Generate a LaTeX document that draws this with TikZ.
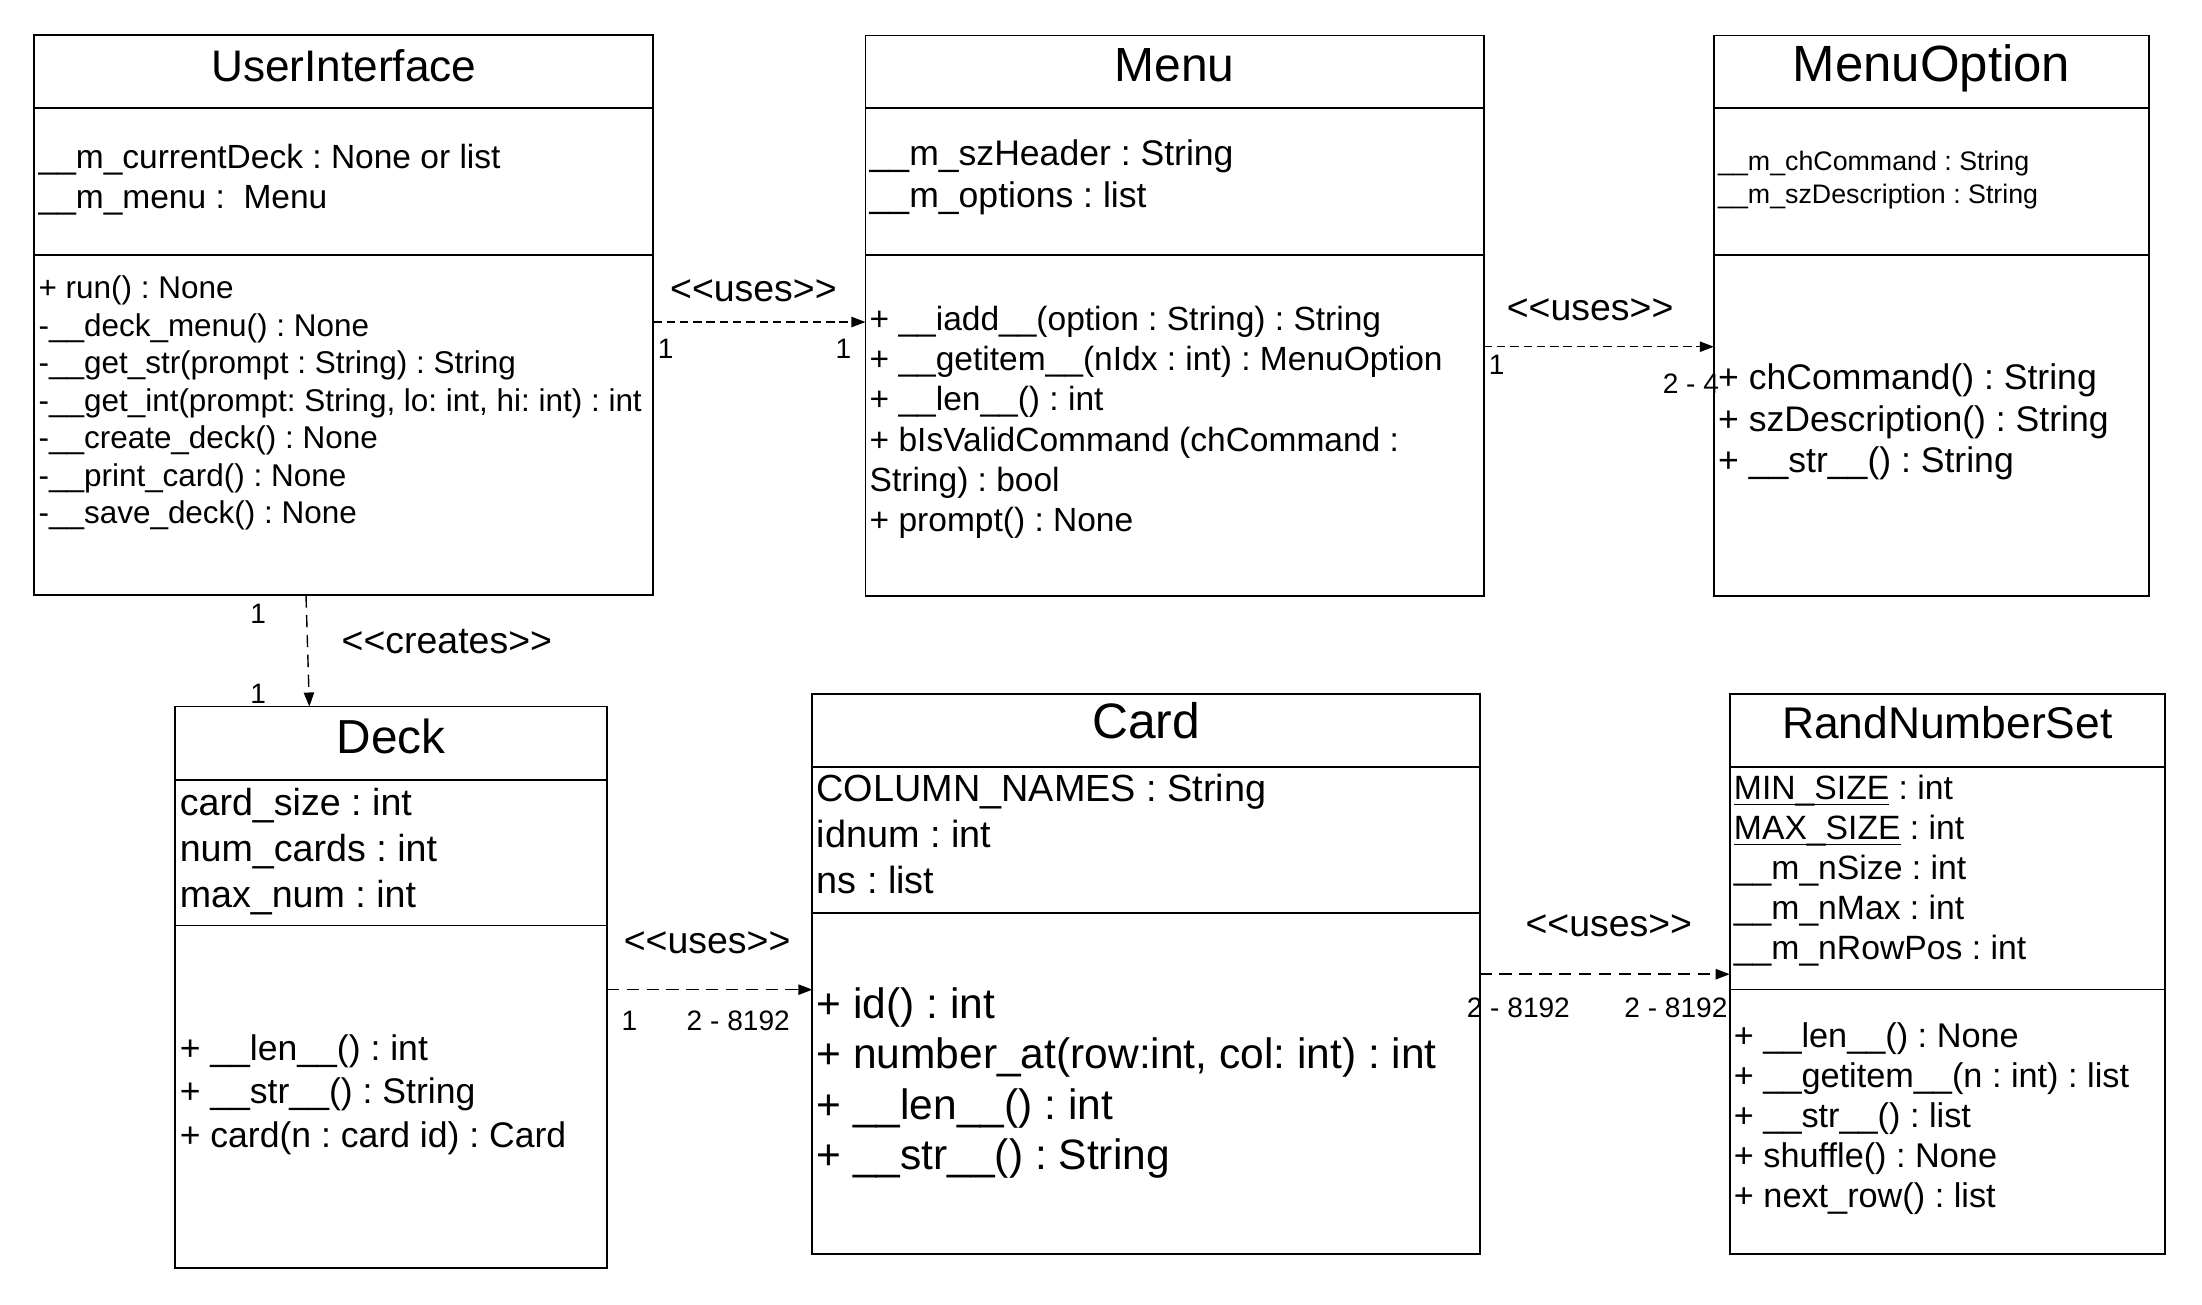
\documentclass[tikz,border=0pt]{standalone}
\usepackage{fontspec}
\setmainfont{Liberation Sans}[Ligatures=TeXOff]
\usetikzlibrary{arrows.meta,fit}
\newcommand{\myfs}[1]{\fontsize{#1pt}{#1pt}\selectfont}
\newcommand{\myul}[1]{\setbox0\hbox{#1}\rlap{\rule[-3.1pt]{\wd0}{0.9pt}}\box0\relax}
\frenchspacing
\begin{document}
\begin{tikzpicture}[x=0.75pt,y=-0.75pt,
  box/.style={draw, line width=1pt, inner sep=0pt, outer sep=0pt},
  divider/.style={line width=1pt},
  txt/.style={inner sep=0pt, outer sep=0pt, anchor=base west},
  ttl/.style={inner sep=0pt, outer sep=0pt, anchor=base},
  lbl/.style={inner sep=0pt, outer sep=0pt, anchor=base, font=\myfs{20}},
  mult/.style={inner sep=0pt, outer sep=0pt, anchor=base west, font=\myfs{15}},
  dep/.style={line width=0.75pt, -{Triangle[length=7.5pt,width=5.5pt]}},
  shortdash/.style={dash pattern=on 4.5pt off 2.6pt},
  longdash/.style={dash pattern=on 6.6pt off 4pt}]

\path[fill=white,use as bounding box] (0,0) rectangle (1568,928.6);

% ---------- boxes ----------
\node[box, fit={(24.5,24.8) (465.2,423.8)}] (ui) {};
\node[box, fit={(616.3,25.3) (1056.5,424.3)}] (menu) {};
\node[box, fit={(1220.4,25.3) (1530.3,424.3)}] (mo) {};
\node[box, fit={(124.9,503.1) (432.1,903)}] (deck) {};
\node[box, fit={(578.5,494) (1053.6,893.2)}] (card) {};
\node[box, fit={(1231.7,494) (1541.5,893.2)}] (rns) {};

% ---------- dividers ----------
\draw[divider] (ui.west |- 0,76.6) -- (ui.east |- 0,76.6);
\draw[divider] (ui.west |- 0,181.6) -- (ui.east |- 0,181.6);
\draw[divider] (menu.west |- 0,76.9) -- (menu.east |- 0,76.9);
\draw[divider] (menu.west |- 0,181.6) -- (menu.east |- 0,181.6);
\draw[divider] (mo.west |- 0,76.9) -- (mo.east |- 0,76.9);
\draw[divider] (mo.west |- 0,181.6) -- (mo.east |- 0,181.6);
\draw[divider] (deck.west |- 0,555.4) -- (deck.east |- 0,555.4);
\draw[divider] (deck.west |- 0,659) -- (deck.east |- 0,659);
\draw[divider] (card.west |- 0,546.1) -- (card.east |- 0,546.1);
\draw[divider] (card.west |- 0,650) -- (card.east |- 0,650);
\draw[divider] (rns.west |- 0,546) -- (rns.east |- 0,546);
\draw[divider] (rns.west |- 0,704.6) -- (rns.east |- 0,704.6);

% ---------- titles ----------
\node[ttl, font=\myfs{23.6}] (uiT) at (ui.north |- 0,57.7) {UserInterface};
\node[ttl, font=\myfs{25.6}] (menuT) at (menu.north |- 0,57.7) {Menu};
\node[ttl, font=\myfs{27.2}] (moT) at (mo.north |- 0,57.7) {MenuOption};
\node[ttl, font=\myfs{25.5}] (deckT) at (deck.north |- 0,536.4) {Deck};
\node[ttl, font=\myfs{26.6}] (cardT) at (card.north |- 0,526.2) {Card};
\node[ttl, font=\myfs{23.7}] (rnsT) at (rns.north |- 0,526.2) {RandNumberSet};

% ---------- UserInterface ----------
\foreach \t [count=\i] in {{\_\_m\_currentDeck : None or list},{\_\_m\_menu :\ \ Menu}}
  \node[txt, font=\myfs{17.9}] (uia\i) at (27.5,{119.7+29*(\i-1)}) {\t};
\foreach \t [count=\i] in {{+ run() : None},{-\_\_deck\_menu() : None},{-\_\_get\_str(prompt : String) : String},{-\_\_get\_int(prompt: String, lo: int, hi: int) : int},{-\_\_create\_deck() : None},{-\_\_print\_card() : None},{-\_\_save\_deck() : None}}
  \node[txt, font=\myfs{16.8}] (uim\i) at (27.5,{212.6+26.75*(\i-1)}) {\t};

% ---------- Menu ----------
\foreach \t [count=\i] in {{\_\_m\_szHeader : String},{\_\_m\_options : list}}
  \node[txt, font=\myfs{19}] (mea\i) at (619.3,{118.2+29.6*(\i-1)}) {\t};
\foreach \t [count=\i] in {{+ \_\_iadd\_\_(option : String) : String},{+ \_\_getitem\_\_(nIdx : int) : MenuOption},{+ \_\_len\_\_() : int},{+ bIsValidCommand (chCommand :},{String) : bool},{+ prompt() : None}}
  \node[txt, font=\myfs{17.9}] (mem\i) at (619.3,{235.1+28.7*(\i-1)}) {\t};

% ---------- MenuOption ----------
\foreach \t [count=\i] in {{\_\_m\_chCommand : String},{\_\_m\_szDescription : String}}
  \node[txt, font=\myfs{14.3}] (moa\i) at (1223.5,{121.6+23.4*(\i-1)}) {\t};
\foreach \t [count=\i] in {{+ chCommand() : String},{+ szDescription() : String},{+ \_\_str\_\_() : String}}
  \node[txt, font=\myfs{19}] (mom\i) at (1223.5,{277.4+29.6*(\i-1)}) {\t};

% ---------- Deck ----------
\foreach \t [count=\i] in {{card\_size : int},{num\_cards : int},{max\_num : int}}
  \node[txt, font=\myfs{20.1}] (dea\i) at (128,{580.7+32.6*(\i-1)}) {\t};
\foreach \t [count=\i] in {{+ \_\_len\_\_() : int},{+ \_\_str\_\_() : String},{+ card(n : card id) : Card}}
  \node[txt, font=\myfs{19}] (dem\i) at (128,{755+30.9*(\i-1)}) {\t};

% ---------- Card ----------
\foreach \t [count=\i] in {{COLUMN\_NAMES : String},{idnum : int},{ns : list}}
  \node[txt, font=\myfs{20.2}] (caa\i) at (581.5,{570.8+32.6*(\i-1)}) {\t};
\foreach \t [count=\i] in {{+ id() : int},{+ number\_at(row:int, col: int) : int},{+ \_\_len\_\_() : int},{+ \_\_str\_\_() : String}}
  \node[txt, font=\myfs{22.7}] (cam\i) at (581.5,{725.4+35.8*(\i-1)}) {\t};

% ---------- RandNumberSet ----------
\foreach \t [count=\i] in {{\myul{MIN\_SIZE} : int},{\myul{MAX\_SIZE} : int},{\_\_m\_nSize : int},{\_\_m\_nMax : int},{\_\_m\_nRowPos : int}}
  \node[txt, font=\myfs{18}] (rna\i) at (1234.7,{569.4+28.5*(\i-1)}) {\t};
\foreach \t [count=\i] in {{+ \_\_len\_\_() : None},{+ \_\_getitem\_\_(n : int) : list},{+ \_\_str\_\_() : list},{+ shuffle() : None},{+ next\_row() : list}}
  \node[txt, font=\myfs{18.3}] (rnm\i) at (1234.7,{745.8+28.5*(\i-1)}) {\t};

% ---------- connectors ----------
\draw[dep, shortdash] (ui.east |- 0,229.3) -- (menu.west |- 0,229.3);
\draw[dep, shortdash] (menu.east |- 0,246.9) -- (mo.west |- 0,246.9);
\draw[dep, longdash] (217.9,0 |- ui.south) -- (deck.north -| 220.3,0);
\draw[dep, longdash] (deck.east |- 0,704.7) -- (card.west |- 0,704.7);
\draw[dep, longdash] (card.east |- 0,693.7) -- (rns.west |- 0,693.7);

% ---------- connector labels ----------
\node[lbl] (l1) at (536.5,214.8) {<<uses>>};
\node[mult] (l1a) at (468.5,255.2) {1};
\node[mult] (l1b) at (595,255.2) {1};

\node[lbl] (l2) at (1132.3,227.9) {<<uses>>};
\node[mult] (l2a) at (1060.2,267) {1};
\node[mult] (l2b) at (1184,280.1) {2 - 4};

\node[lbl] (l3) at (318.2,465) {<<creates>>};
\node[mult] (l3a) at (178.2,443.9) {1};
\node[mult] (l3b) at (178.2,500.8) {1};

\node[lbl] (l4) at (503.5,678.7) {<<uses>>};
\node[mult] (l4a) at (442.6,733.6) {1};
\node[mult] (l4b) at (489,733.6) {2 - 8192};

\node[lbl] (l5) at (1145.6,666.5) {<<uses>>};
\node[mult] (l5a) at (1044.5,724.4) {2 - 8192};
\node[mult] (l5b) at (1156.7,724.4) {2 - 8192};
\end{tikzpicture}
\end{document}
